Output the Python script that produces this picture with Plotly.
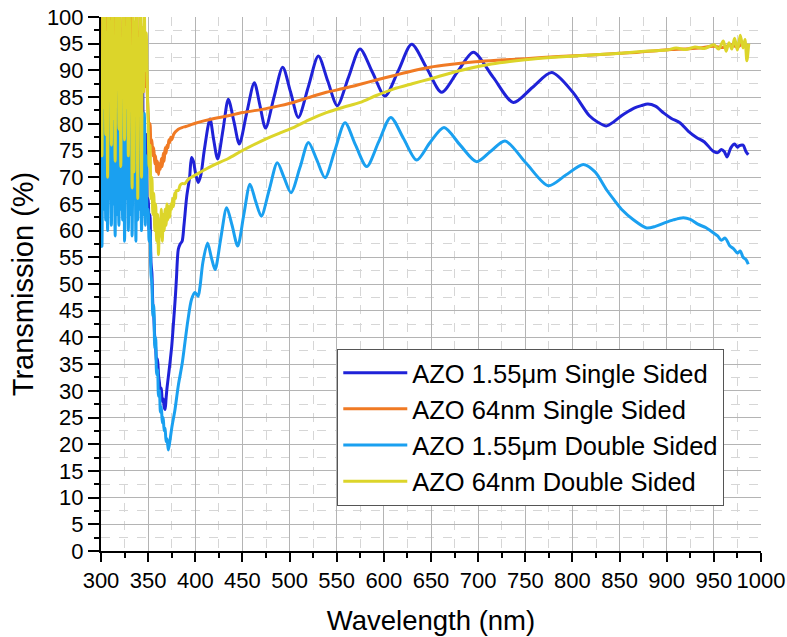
import plotly.graph_objects as go

# ---------------------------------------------------------------
# Transmission spectra of AZO films (wavelength in nm, T in %)
# ---------------------------------------------------------------

# Noisy UV region below the absorption edge, 1 nm steps
wl_uv = list(range(300, 350))

# AZO 1.55 um, single sided
ss155_uv = [90, 68, 99, 72, 85, 66, 104, 75, 88, 70,
            96, 67, 82, 73, 101, 69, 91, 64, 86, 74,
            98, 68, 80, 71, 105, 66, 89, 75, 94, 70,
            84, 67, 100, 72, 87, 69, 97, 73, 83, 66,
            92, 70, 86, 68, 95, 71, 81, 67, 78, 65]
ss155_wl = [350, 351, 352, 353, 354, 355, 356, 357, 358, 359,
            360, 361, 362, 363, 364, 365, 366, 367, 368, 369,
            370, 371, 373, 375, 377, 379, 380, 382, 384, 386,
            388, 391, 394, 396, 398, 400, 403, 406, 409.5, 415.6,
            419.5, 423.7, 429.5, 435, 441, 446.7, 454.5, 462.6, 468.5, 474.5,
            483.5, 492.7, 501, 509.3, 520, 530.5, 540.5, 550.6, 562.5, 574.7,
            588, 601.2, 615.5, 629.5, 645.5, 661.3, 678, 694.9, 716, 737.3,
            757.5, 778, 800, 818, 827, 836, 844, 852, 859, 866,
            873, 880, 888, 897, 905, 914, 923, 932, 940, 949,
            954, 958, 961, 964, 968, 972, 975, 977, 981, 984, 986.5]
ss155_t = [66, 60, 63, 54, 52, 46, 44, 40, 38, 35,
           36, 33, 31.5, 30, 30.5, 28, 28.5, 27, 26.5, 28.5,
           30.5, 32, 35, 38.3, 43, 48, 51, 56.5, 57.5, 58,
           61, 66.5, 70, 73.7, 73, 71, 69, 70.5, 75, 80.9,
           77, 73.4, 79, 84.6, 80.4, 76.2, 82, 87.7, 83.5, 79.2,
           85, 90.6, 86, 81.2, 87, 92.7, 88, 83.4, 88.7, 94.0,
           89.6, 85.2, 90, 94.9, 90.4, 85.9, 89.7, 93.4, 88.7, 84,
           86.8, 89.6, 86, 81.5, 80.3, 79.6, 80.4, 81.5, 82.3, 83,
           83.4, 83.7, 83.3, 82, 81, 80.2, 78.6, 77.4, 76.6, 74.9,
           74.6, 75.2, 74.8, 73.8, 75.5, 76.2, 75.6, 75.9, 76.0, 74.8, 74.2]

# AZO 64 nm, single sided
ss64_uv = [96, 86, 103, 88, 99, 84, 108, 90, 95, 85,
           102, 87, 98, 83, 106, 89, 97, 86, 104, 88,
           100, 84, 93, 87, 107, 85, 99, 90, 101, 86,
           96, 84, 105, 88, 98, 85, 94, 89, 103, 86,
           97, 92, 99, 88, 96, 86, 94, 87, 91, 86]
ss64_wl = list(range(350, 375)) + [
    375, 377, 379, 382, 386, 390, 395, 400, 410, 420,
    435, 450, 474, 490, 504, 520, 539, 557, 575, 592,
    610, 630, 649, 670, 697, 720, 750, 785, 820, 850,
    870, 889, 905, 920, 935, 950, 960, 968, 975, 981, 986]
ss64_t = [82, 79, 80, 76, 77, 74, 75.5, 72.5, 74, 71,
          73, 70.5, 72.5, 71.5, 73.5, 72, 74.5, 73, 75.5, 74.5,
          76, 75.5, 77, 76.5, 77.5,
          77, 78, 78.5, 79, 79.3, 79.5, 79.8, 80.1, 80.6, 81,
          81.5, 82.1, 82.8, 83.4, 84, 84.9, 85.9, 86.6, 87.4, 88.2,
          89, 89.9, 90.6, 91.1, 91.6, 91.9, 92.2, 92.6, 92.9, 93.2,
          93.4, 93.7, 93.9, 94.0, 94.2, 94.5, 94.3, 94.8, 94.4, 95.0, 94.6]

# AZO 1.55 um, double sided
ds155_uv = [72, 57, 80, 64, 88, 62, 75, 60, 93, 66,
            70, 61, 84, 65, 78, 59, 90, 63, 74, 61,
            86, 64, 71, 62, 95, 58, 79, 66, 83, 60,
            76, 63, 89, 59, 73, 67, 81, 58, 92, 62,
            77, 64, 85, 60, 70, 63, 82, 61, 74, 63]
ds155_wl = [350, 351, 352, 353, 354, 355, 356, 357, 358, 359,
            360, 361, 362, 363, 364, 365, 366, 367, 368, 369,
            370, 371.4, 373, 375, 378.5, 382, 386, 389, 392, 396,
            399.7, 403, 405, 408, 413, 417, 421, 427, 433.3, 439,
            445, 451.5, 458, 464, 470, 478.5, 487, 494, 501.5, 511,
            520, 529, 537.6, 548, 558.8, 570, 581.8, 594.5, 607.3, 621,
            634.8, 649, 663.8, 681, 698.4, 713, 728.5, 751, 774.4, 793,
            811.5, 824, 836, 844, 852, 865, 878.7, 888, 897, 907,
            917.6, 925, 933, 941, 949.4, 954, 958, 962, 967, 971,
            975, 978, 981, 984, 986.5]
ds155_t = [64, 58, 60, 52, 50, 44, 46, 38, 40, 33,
           34, 29, 30, 26, 27, 24, 25, 22.5, 23, 20.5,
           21, 18.9, 20.5, 23, 26.5, 31, 35, 39, 43, 47.1,
           48.4, 47.7, 49.5, 54, 57.7, 55, 52.7, 58.5, 64.3, 61,
           57.1, 63, 68.7, 65.5, 62.7, 67.7, 72.7, 70, 67.1, 71.8,
           76.5, 73.2, 69.9, 75, 80.2, 76, 72, 76.6, 81.2, 77.2,
           73.2, 76.5, 79.3, 76, 72.9, 74.8, 76.8, 72.6, 68.4, 70.4,
           72.4, 71, 67.7, 65.8, 64, 62, 60.5, 60.8, 61.4, 62,
           62.4, 62.1, 61.2, 60.6, 59.6, 59, 58.2, 58.6, 57.1, 56.6,
           55.8, 56.2, 55, 54.6, 53.7]

# AZO 64 nm, double sided
ds64_uv = [92, 74, 101, 83, 108, 78, 97, 70, 104, 86,
           99, 76, 110, 81, 95, 73, 106, 88, 100, 79,
           103, 72, 96, 85, 109, 77, 98, 83, 105, 74,
           101, 87, 94, 68, 107, 71, 99, 84, 102, 66,
           96, 88, 104, 70, 98, 86, 101, 90, 97, 88]
ds64_wl = list(range(350, 381)) + [
    382, 384, 386, 389, 392, 396, 400, 410, 420, 435,
    450, 474, 490, 504, 520, 539, 557, 575, 592, 610,
    630, 649, 679, 714, 750, 785, 820, 850, 870, 889,
    900, 910, 920, 930, 940, 950, 955, 960, 963, 966,
    969, 972, 975, 978, 981, 983, 985, 987]
ds64_t = [80, 72, 76, 66, 70, 63, 67, 60, 65, 58,
          63, 55.5, 62, 59, 64, 58, 63, 60, 64, 61,
          65, 62, 64.5, 62.5, 65, 64, 66, 64.5, 67, 66, 67.5,
          67.5, 68.5, 68.8, 68.8, 69.5, 70, 70.4, 71.4, 72.3, 73.5,
          75, 77.1, 78.3, 79.3, 80.7, 82.1, 83.1, 84, 85.3, 86.5,
          87.5, 88.4, 89.9, 91.2, 92, 92.5, 92.9, 93.2, 93.5, 93.7,
          93.8, 94.2, 93.9, 94.4, 94.1, 94.8, 94.0, 95.5, 93.6, 95.2,
          94.0, 96.0, 93.8, 96.6, 94.2, 95.8, 91.8, 95.0]

series = [
    ("AZO 1.55\u03bcm Single Sided", ss155_uv, ss155_wl, ss155_t, "#1f22d8"),
    ("AZO 64nm Single Sided", ss64_uv, ss64_wl, ss64_t, "#f07a24"),
    ("AZO 1.55\u03bcm Double Sided", ds155_uv, ds155_wl, ds155_t, "#1aa0f0"),
    ("AZO 64nm Double Sided", ds64_uv, ds64_wl, ds64_t, "#dcd52a"),
]

FONT = "Liberation Sans, Arial, sans-serif"

fig = go.Figure()
for name, uv, wl, t, color in series:
    fig.add_trace(go.Scatter(
        x=wl_uv + wl, y=uv + t, name=name, mode="lines",
        line=dict(color=color, width=3, shape="spline", smoothing=0.8),
    ))

axis_common = dict(
    showline=True, linecolor="black", linewidth=2, mirror=False,
    ticks="outside", tickwidth=2, tickcolor="black", automargin=False,
    showgrid=True, gridcolor="#b4b4b4", gridwidth=1, zeroline=False,
    tickfont=dict(size=22, family=FONT, color="black"),
)

fig.update_xaxes(
    range=[300, 1000], tick0=300, dtick=50, ticklen=9,
    minor=dict(dtick=25, ticks="outside", ticklen=5, tickwidth=2,
               tickcolor="black", showgrid=True, gridcolor="#d6d6d6",
               griddash="dash", gridwidth=1),
    title=dict(text="Wavelength (nm)", font=dict(size=27.5, family=FONT),
               standoff=18),
    **axis_common,
)
fig.update_yaxes(
    range=[0, 100], tick0=0, dtick=5, ticklen=11,
    minor=dict(dtick=2.5, ticks="outside", ticklen=5, tickwidth=2,
               tickcolor="black", showgrid=True, gridcolor="#d6d6d6",
               griddash="dash", gridwidth=1),
    title=dict(text="Transmission (%)", font=dict(size=29, family=FONT),
               standoff=5),
    **axis_common,
)

fig.update_layout(
    width=787, height=637,
    margin=dict(l=101, r=26, t=17, b=86),
    paper_bgcolor="white", plot_bgcolor="white",
    font=dict(family=FONT, color="black"),
    showlegend=True,
    legend=dict(
        x=0.358, y=0.379, xanchor="left", yanchor="top",
        bgcolor="white", bordercolor="#555555", borderwidth=1,
        font=dict(size=25.5, family=FONT, color="black"),
        itemwidth=64, tracegroupgap=0,
    ),
)

fig.write_html("out.html")
